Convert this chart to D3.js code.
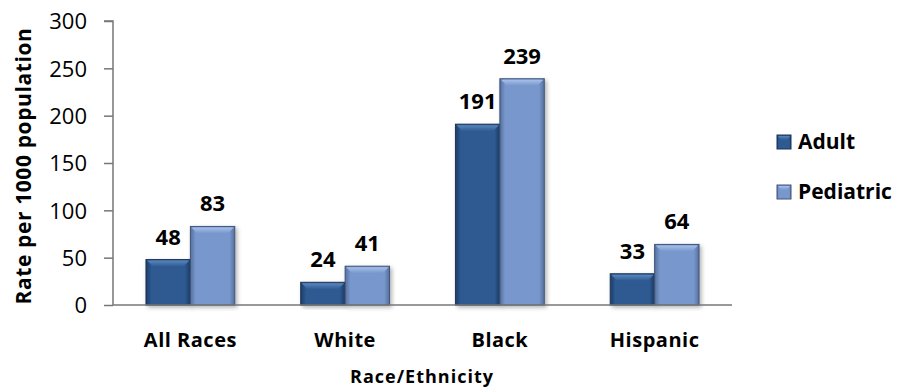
<!DOCTYPE html>
<html>
<head>
<meta charset="utf-8">
<script src="https://cdn.jsdelivr.net/npm/d3@7"></script>
<style>
  html, body { margin: 0; padding: 0; background: #fff; }
  svg { display: block; }
  text { font-family: "Open Sans", Lato, "DejaVu Sans", sans-serif; fill: #000; }
</style>
</head>
<body>
<svg id="chart" width="907" height="388"></svg>
<script>
// Rates per 1000 population by race/ethnicity
const categories = ["All Races", "White", "Black", "Hispanic"];
const seriesNames = ["Adult", "Pediatric"];
const adultValues = [48, 24, 191, 33];
const pediatricValues = [83, 41, 239, 64];
const yTicks = [0, 50, 100, 150, 200, 250, 300];

const seriesValues = [adultValues, pediatricValues];
const seriesColors = [
  { base: "#2d5a91", light: "#5a86be", dark: "#1d3c66", edge: "#1c3457" },
  { base: "#7897cc", light: "#a6c0ea", dark: "#56709e", edge: "#3f5478" }
];

const svg = d3.select("#chart");
const defs = svg.append("defs");

seriesColors.forEach((c, i) => {
  const g = defs.append("linearGradient").attr("id", "body" + i)
    .attr("x1", 0).attr("x2", 1).attr("y1", 0).attr("y2", 0);
  g.append("stop").attr("offset", "0%").attr("stop-color", c.dark);
  g.append("stop").attr("offset", "12%").attr("stop-color", c.base);
  g.append("stop").attr("offset", "88%").attr("stop-color", c.base);
  g.append("stop").attr("offset", "100%").attr("stop-color", c.dark);
  const t = defs.append("linearGradient").attr("id", "top" + i)
    .attr("x1", 0).attr("x2", 0).attr("y1", 0).attr("y2", 1);
  t.append("stop").attr("offset", "0%").attr("stop-color", c.light);
  t.append("stop").attr("offset", "100%").attr("stop-color", c.base);
});
const shadow = defs.append("filter").attr("id", "shadow")
  .attr("x", "-20%").attr("y", "-20%").attr("width", "140%").attr("height", "140%");
shadow.append("feDropShadow").attr("dx", 2).attr("dy", 2).attr("stdDeviation", 2)
  .attr("flood-color", "#000").attr("flood-opacity", 0.3);

const x = d3.scaleBand().domain(categories).range([113, 732])
  .paddingInner(0.426).paddingOuter(0.213);
const xs = d3.scaleBand().domain(seriesNames).range([0, x.bandwidth()]);
const y = d3.scaleLinear().domain([0, 300]).range([305, 21]);

// y axis
const yAxis = svg.append("g").attr("transform", "translate(113,0)")
  .call(d3.axisLeft(y).tickValues(yTicks).tickSize(9).tickPadding(17).tickFormat(d3.format("d")));
yAxis.select(".domain").attr("stroke", "#777").attr("stroke-width", 1.5)
  .attr("d", `M-9,${y(300)}H0V${y(0)}`);
yAxis.selectAll(".tick line").attr("stroke", "#777").attr("stroke-width", 1.5);
yAxis.selectAll(".tick text").style("font-size", "22px").attr("fill", "#000")
  .attr("dy", "0.35em").style("font-family", "'Open Sans', sans-serif");

// bars
const data = [];
categories.forEach((cat, ci) => {
  seriesNames.forEach((s, si) => data.push({ cat, s, si, v: seriesValues[si][ci] }));
});

const bars = svg.append("g").selectAll("g.bar").data(data).join("g").attr("class", "bar");
bars.each(function(d) {
  const g = d3.select(this);
  const x0 = x(d.cat) + xs(d.s), w = xs.bandwidth();
  const y0 = y(d.v), h = y(0) - y0;
  const c = seriesColors[d.si];
  g.append("rect").attr("x", x0).attr("y", y0).attr("width", w).attr("height", h)
    .attr("fill", `url(#body${d.si})`).attr("stroke", c.edge).attr("stroke-width", 1)
    .attr("filter", "url(#shadow)");
  const b = Math.min(7, h / 2);
  g.append("path")
    .attr("d", `M${x0 + 1},${y0 + 1}H${x0 + w - 1}L${x0 + w - b},${y0 + b}H${x0 + b}Z`)
    .attr("fill", `url(#top${d.si})`);
  g.append("text").attr("x", x0 + w / 2).attr("y", y0 - 15)
    .attr("text-anchor", "middle").style("font-size", "22px").style("font-weight", "bold")
    .text(d.v);
});

// baseline
svg.append("line").attr("x1", 113).attr("x2", 732).attr("y1", y(0)).attr("y2", y(0))
  .attr("stroke", "#777").attr("stroke-width", 1.5);

// category labels
svg.append("g").selectAll("text").data(categories).join("text")
  .attr("x", d => x(d) + x.bandwidth() / 2).attr("y", 347)
  .attr("text-anchor", "middle").style("font-size", "20px").style("font-weight", "bold")
  .style("letter-spacing", "0.5px")
  .text(d => d);

// axis titles
svg.append("text").attr("x", 422).attr("y", 383).attr("text-anchor", "middle")
  .style("font-size", "18px").style("font-weight", "bold").style("letter-spacing", "1px")
  .text("Race/Ethnicity");
svg.append("text").attr("transform", `translate(31,${(y(0) + y(300)) / 2 + 3}) rotate(-90)`)
  .attr("text-anchor", "middle").style("font-size", "21px").style("font-weight", "bold")
  .style("letter-spacing", "0.6px")
  .text("Rate per 1000 population");

// legend
const legend = svg.append("g").selectAll("g").data(seriesNames).join("g")
  .attr("transform", (d, i) => `translate(777,${135 + i * 50})`);
legend.append("rect").attr("width", 14).attr("height", 14)
  .attr("fill", (d, i) => `url(#body${i})`).attr("stroke", (d, i) => seriesColors[i].edge);
legend.append("path").attr("d", "M1,1H13L10,5H4Z").attr("fill", (d, i) => `url(#top${i})`);
legend.append("text").attr("x", 21).attr("y", 7).attr("dy", "0.35em")
  .style("font-size", "21px").style("font-weight", "bold").text(d => d);
</script>
</body>
</html>
